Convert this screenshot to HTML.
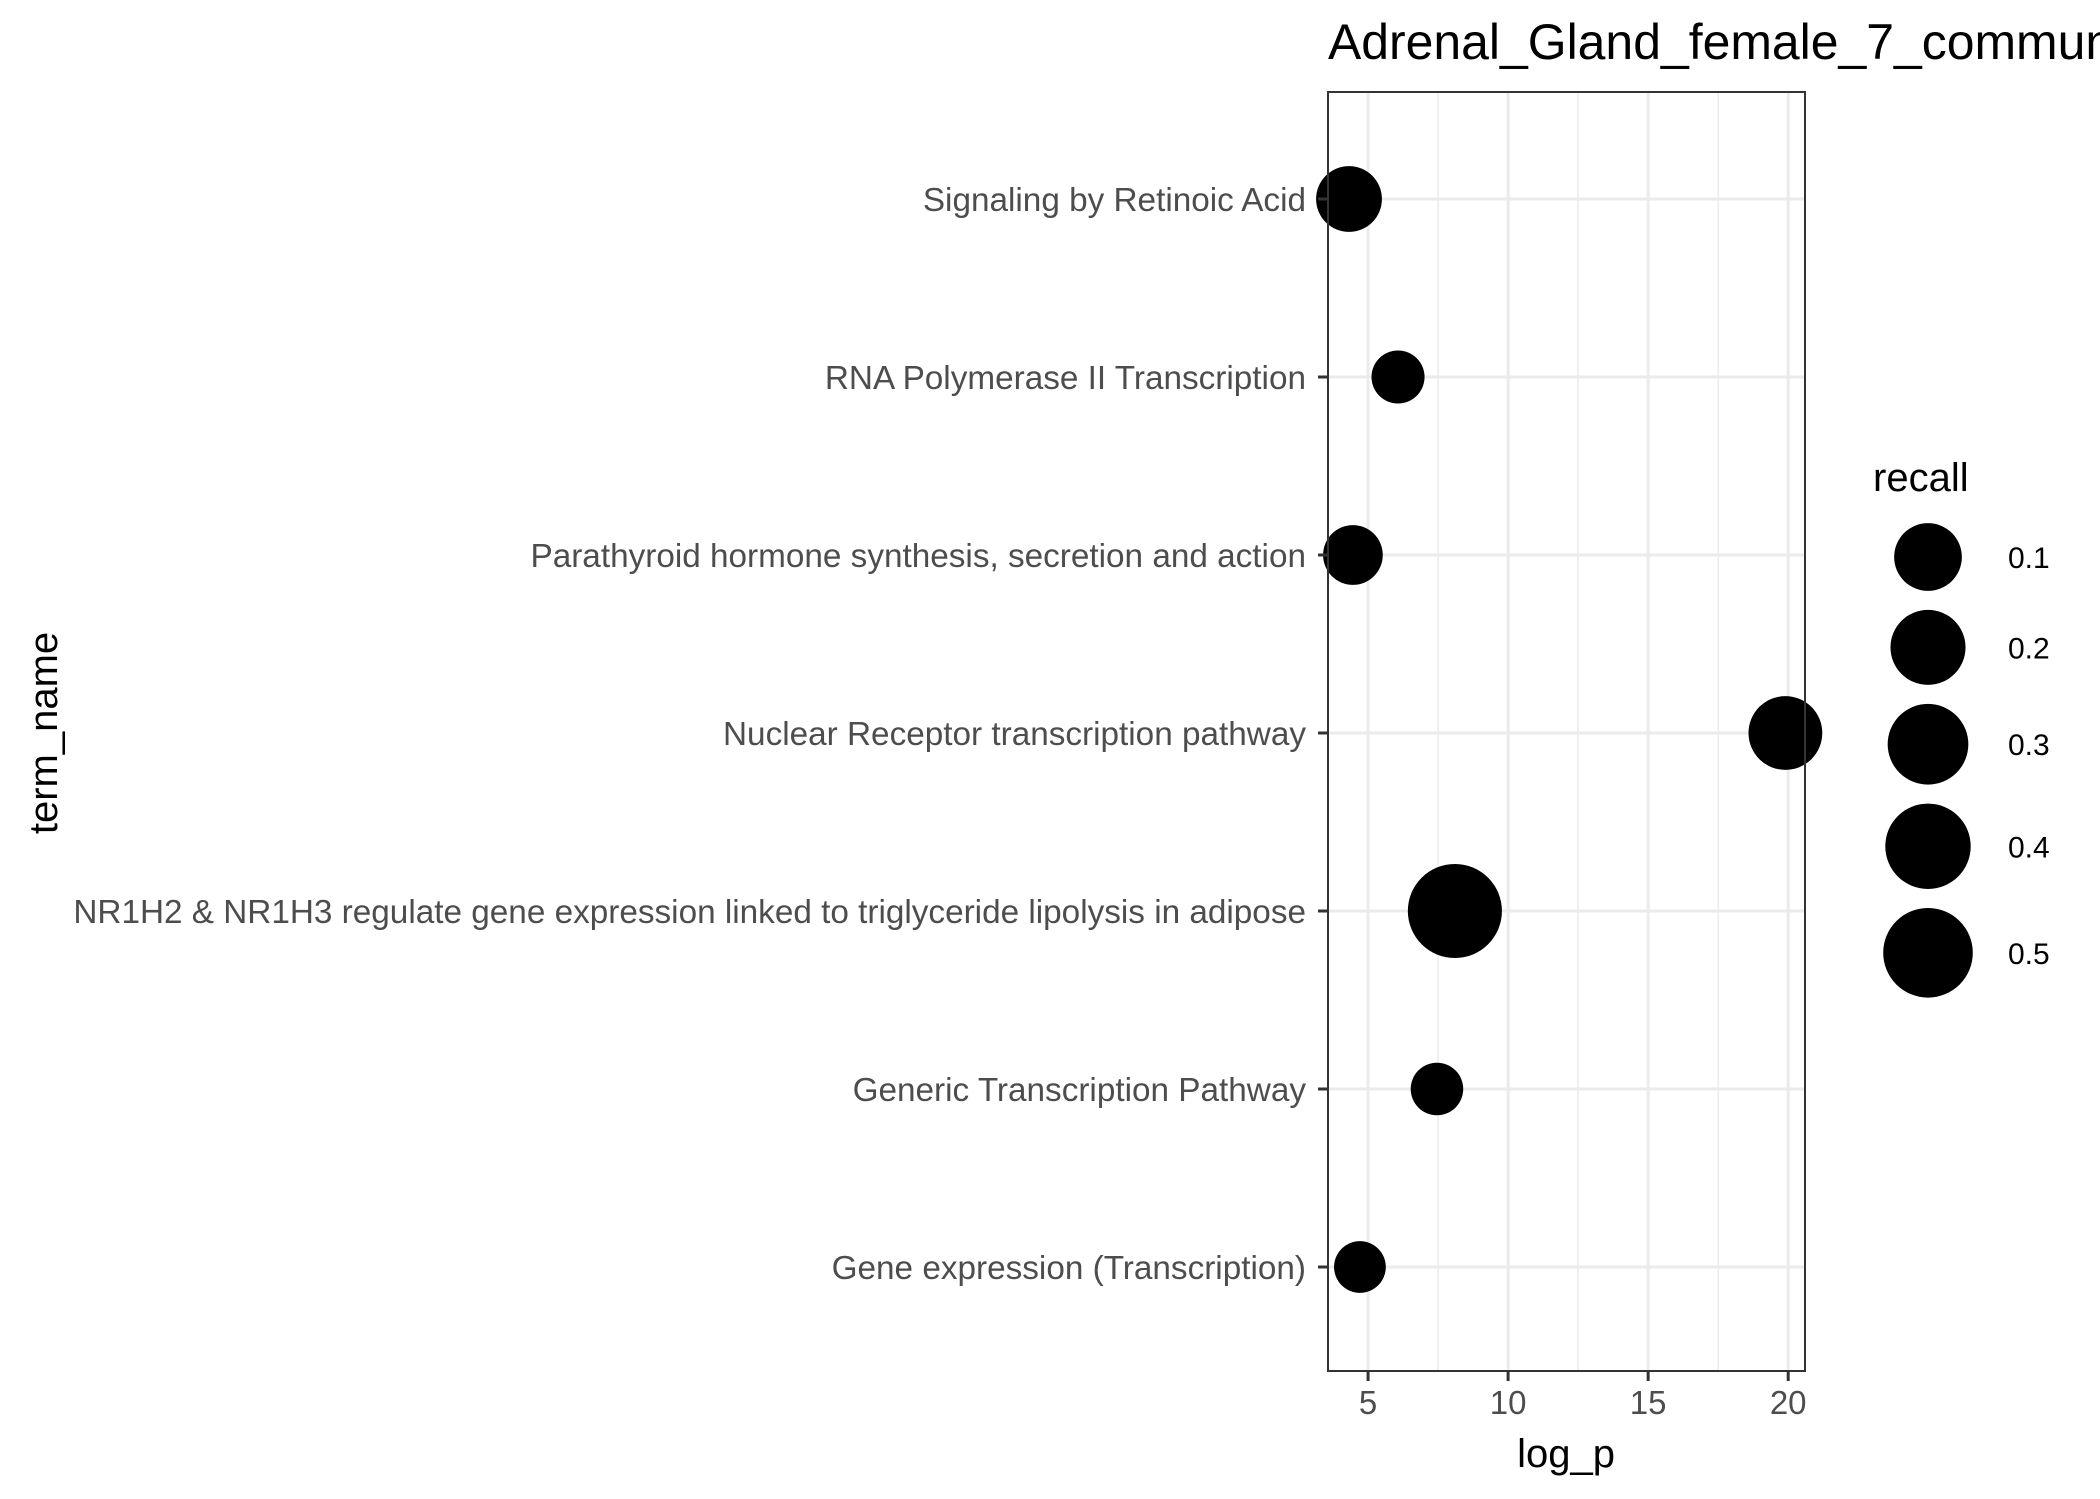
<!DOCTYPE html>
<html><head><meta charset="utf-8"><style>
html,body{margin:0;padding:0;background:#fff;overflow:hidden;}
svg{display:block;font-family:"Liberation Sans",Arial,sans-serif;}
</style></head><body>
<svg id="chart" width="2100" height="1499" viewBox="0 0 2100 1499">
<text transform="translate(1328,59) scale(1.04,1.04)" font-size="48" fill="#000">Adrenal_Gland_female_7_community</text>
<g id="grid"></g>
<g id="points"></g>
<rect x="1328" y="92" width="477" height="1279" fill="none" stroke="#333" stroke-width="2"/>
<g id="axes"></g>
<text x="1566" y="1467" font-size="40" text-anchor="middle" fill="#000">log_p</text>
<text transform="translate(57,733) rotate(-90)" font-size="40" text-anchor="middle" fill="#000">term_name</text>
<g id="legend"></g>
</svg>
<script>
const terms = ["Signaling by Retinoic Acid","RNA Polymerase II Transcription","Parathyroid hormone synthesis, secretion and action","Nuclear Receptor transcription pathway","NR1H2 & NR1H3 regulate gene expression linked to triglyceride lipolysis in adipose","Generic Transcription Pathway","Gene expression (Transcription)"];
const logP = [4.32, 6.07, 4.46, 19.9, 8.1, 7.46, 4.71];
const recall = [0.08, 0.003, 0.03, 0.18, 0.62, 0.002, 0.001];
const xTicks = [5, 10, 15, 20];
const xMinor = [7.5, 12.5, 17.5];
const legendBreaks = [0.1, 0.2, 0.3, 0.4, 0.5];

const NS = "http://www.w3.org/2000/svg";
const PL = 1328, PR = 1805, PT = 92, PB = 1371;
const XMIN = 3.57, XMAX = 20.6;
function xs(v){ return PL + (v - XMIN) / (XMAX - XMIN) * (PR - PL); }
function ys(i){ return 199 + i * 178; }
function rs(r){ return 25 + 28 * Math.sqrt(r); }
function mk(tag, attrs, parent){ const e = document.createElementNS(NS, tag); for (const k in attrs) e.setAttribute(k, attrs[k]); parent.appendChild(e); return e; }

const grid = document.getElementById('grid');
const axes = document.getElementById('axes');
const pts = document.getElementById('points');
const leg = document.getElementById('legend');

xMinor.forEach(v => {
  const l = mk('line', {x1: xs(v), x2: xs(v), y1: PT, y2: PB, stroke: '#ebebeb', 'stroke-width': 1.5}, grid);
  
  
});
xTicks.forEach(v => {
  const l = mk('line', {x1: xs(v), x2: xs(v), y1: PT, y2: PB, stroke: '#ebebeb', 'stroke-width': 3}, grid);
  
  
  const t = mk('line', {x1: xs(v), x2: xs(v), y1: PB, y2: PB + 10, stroke: '#333', 'stroke-width': 3}, axes);
  
  
  const tx = mk('text', {x: xs(v), y: PB + 43, 'font-size': 33, 'text-anchor': 'middle', fill: '#4d4d4d'}, axes);
  tx.textContent = v;
  
  
});
terms.forEach((name, i) => {
  const y = ys(i);
  const g = mk('line', {x1: PL, x2: PR, y1: y, y2: y, stroke: '#ebebeb', 'stroke-width': 3}, grid);
  
  
  const t = mk('line', {x1: PL - 10, x2: PL, y1: y, y2: y, stroke: '#333', 'stroke-width': 3}, axes);
  
  
  const tx = mk('text', {x: PL - 22, y: y + 12, 'font-size': 33.3, 'text-anchor': 'end', fill: '#4d4d4d'}, axes);
  tx.textContent = name;
  
  
  const c = mk('circle', {cx: xs(logP[i]), cy: y, r: rs(recall[i]), fill: '#000'}, pts);
  
  
});

const lt = mk('text', {x: 1873, y: 491, 'font-size': 40, fill: '#000'}, leg);
lt.textContent = 'recall';


let ly = 557;
legendBreaks.forEach((b, i) => {
  const r = rs(b);
  if (i > 0) ly += rs(legendBreaks[i-1]) + r + 19;
  const c = mk('circle', {cx: 1928, cy: ly, r: r, fill: '#000'}, leg);
  
  
  const t = mk('text', {x: 2008, y: ly + 11, 'font-size': 30, fill: '#000'}, leg);
  t.textContent = b;
  
  
});
</script>
</body></html>
